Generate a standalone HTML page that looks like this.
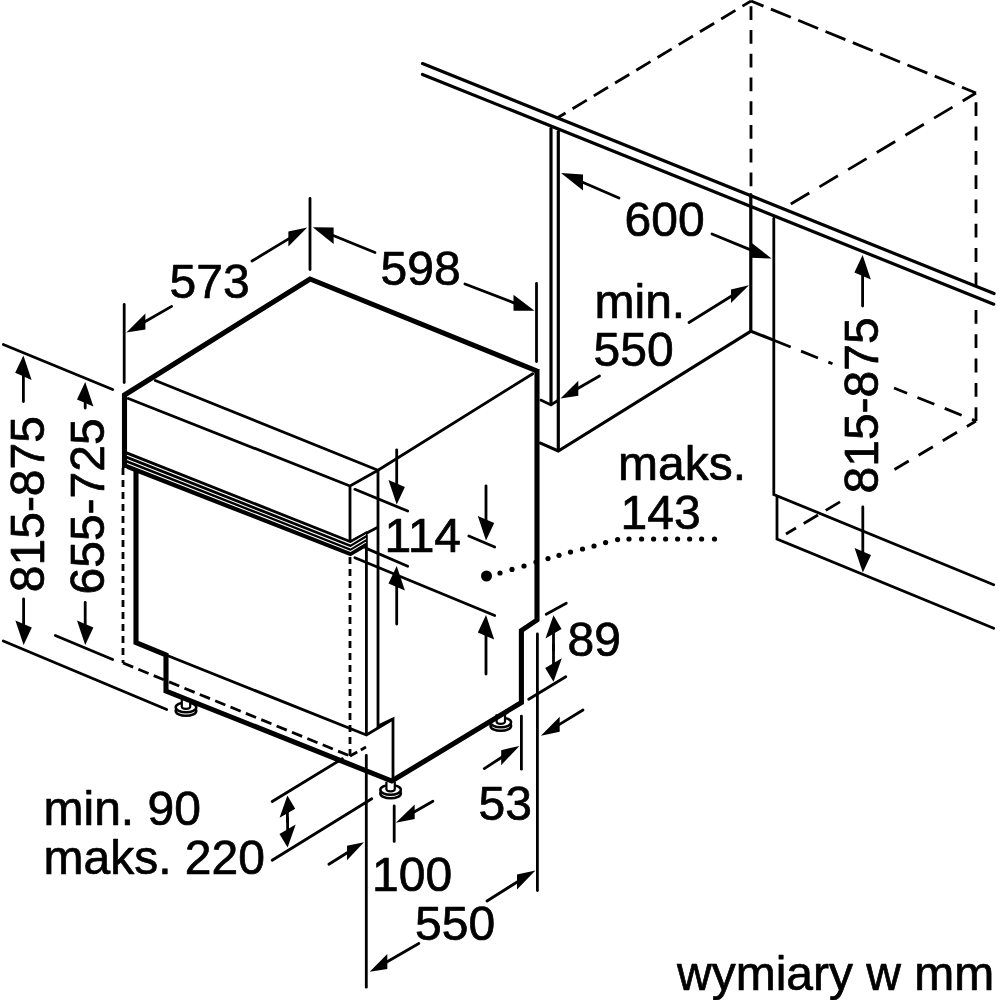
<!DOCTYPE html>
<html><head><meta charset="utf-8"><title>wymiary w mm</title>
<style>html,body{margin:0;padding:0;background:#fff}svg{display:block;will-change:transform}
svg path,svg ellipse{fill:none;stroke:#000}
svg .f{fill:#000;stroke:none}
svg text{font-family:"Liberation Sans",sans-serif;fill:#000;stroke:#000;stroke-width:.7px;stroke-linejoin:round}
</style></head><body>
<svg width="1000" height="1000" viewBox="0 0 1000 1000">
<rect width="1000" height="1000" fill="#fff"/>
<g stroke-width="2.5"><ellipse cx="186" cy="710.9" rx="10.3" ry="4.9" style="fill:#fff"/><ellipse cx="186" cy="707.3" rx="10.3" ry="4.9" style="fill:#fff"/><path d="M181.8 699.3 V706.8 A4.2 2 0 0 0 190.2 706.8 V699.3" stroke-width="2.2" style="fill:#fff"/></g>
<g stroke-width="2.5"><ellipse cx="390.6" cy="793.4" rx="10.3" ry="4.9" style="fill:#fff"/><ellipse cx="390.6" cy="789.8" rx="10.3" ry="4.9" style="fill:#fff"/><path d="M386.4 781.8 V789.3 A4.2 2 0 0 0 394.8 789.3 V781.8" stroke-width="2.2" style="fill:#fff"/></g>
<g stroke-width="2.5"><ellipse cx="500.8" cy="725.9" rx="10.3" ry="4.9" style="fill:#fff"/><ellipse cx="500.8" cy="722.3" rx="10.3" ry="4.9" style="fill:#fff"/><path d="M496.6 714.3 V721.8 A4.2 2 0 0 0 505 721.8 V714.3" stroke-width="2.2" style="fill:#fff"/></g>
<path d="M124.5 468 L124.5 395 L310 279 L537 371" stroke-width="5.1"/>
<path d="M537 369 L537 620 L521.4 630.5 L521.4 702.5 L391.8 781 L166 691 L166 655 L136 642.5 L136 468" stroke-width="5.1"/>
<path d="M128.3 398.51 L350 486 L378 470.2 L532.81 373.74" stroke-width="2.8" stroke-linecap="round"/>
<path d="M155.3 380.52 L376.7 469.68" stroke-width="2.8" stroke-linecap="round"/>
<path d="M350 487.4 L350 540.6" stroke-width="2.8" stroke-linecap="round"/>
<path d="M351.23 541.34 L376.77 527.66" stroke-width="2.8" stroke-linecap="round"/>
<path d="M378 471.4 L378 726 L393 719 L393 779.6" stroke-width="2.8" stroke-linecap="round"/>
<path d="M366.4 535.4 L366.4 733.6" stroke-width="2.8" stroke-linecap="round"/>
<path d="M167.3 655.52 L366.4 735 L391.8 719.72" stroke-width="2.8" stroke-linecap="round"/>
<polygon class="f" points="126.5,451.2 350.5,540.2 366.8,531 366.8,546.8 350.5,556.2 126.5,468.8"/>
<path d="M127 455.2 L350.5 543.8 L366 534.6" style="stroke:#fff" stroke-width="1.1"/>
<path d="M127 459.6 L350.5 547.8 L366 538.5" style="stroke:#fff" stroke-width="1.1"/>
<path d="M127 463.5 L350.5 551.4 L366 542.1" style="stroke:#fff" stroke-width="1.1"/>
<path d="M123 468 L123 663" stroke-width="2.8" stroke-dasharray="7 5"/>
<path d="M123 663 L350 756" stroke-width="2.8" stroke-dasharray="11 5.6"/>
<path d="M350 756 L366 747" stroke-width="2.8" stroke-dasharray="8.3 4.1"/>
<path d="M350 557 L350 756" stroke-width="2.8" stroke-dasharray="7 5"/>
<path d="M124.2 304.4 L124.2 382.6" stroke-width="2.8" stroke-linecap="round"/>
<path d="M310 198.4 L310 269.6" stroke-width="2.8" stroke-linecap="round"/>
<path d="M536.5 283.4 L536.5 361.6" stroke-width="2.8" stroke-linecap="round"/>
<path d="M252 261 L289.4 238.37" stroke-width="2.8" stroke-linecap="round"/>
<polygon class="f" points="307.2,227.6 288.4,231.4 288.4,246.6"/>
<path d="M171.6 306.4 L144.4 322.046" stroke-width="2.8" stroke-linecap="round"/>
<polygon class="f" points="126.4,332.4 145.4,313.5 145.4,329.5"/>
<path d="M375 252.5 L332.6 235.254" stroke-width="2.8" stroke-linecap="round"/>
<polygon class="f" points="312.8,227.2 333.6,227.5 333.6,243.9"/>
<path d="M465 284 L514.5 303.088" stroke-width="2.8" stroke-linecap="round"/>
<polygon class="f" points="534.5,310.8 513.5,294.7 513.5,310.7"/>
<text x="169.5" y="298" font-size="48" text-anchor="start">573</text>
<text x="380.5" y="284.5" font-size="48" text-anchor="start">598</text>
<path d="M3.3 344.53 L112.7 389.47" stroke-width="2.8" stroke-linecap="round"/>
<path d="M3.29 641.04 L166.71 709.46" stroke-width="2.8" stroke-linecap="round"/>
<path d="M55.29 635.54 L112.71 659.46" stroke-width="2.8" stroke-linecap="round"/>
<path d="M23.4 401.5 L23.4 375.4" stroke-width="2.8" stroke-linecap="round"/>
<polygon class="f" points="23.4,355.4 15.2,372.8 31.6,380.0"/>
<path d="M23.6 599 L23.6 625" stroke-width="2.8" stroke-linecap="round"/>
<polygon class="f" points="23.6,645 15.4,620.4 31.8,627.6"/>
<path d="M85.2 408 L85.2 402" stroke-width="2.8" stroke-linecap="round"/>
<polygon class="f" points="85.2,382 77,399.4 93.4,406.6"/>
<path d="M85.2 602.5 L85.2 625" stroke-width="2.8" stroke-linecap="round"/>
<polygon class="f" points="85.2,645 77,620.4 93.4,627.6"/>
<text x="44" y="592.2" font-size="48" text-anchor="start" transform="rotate(-90 44 592.2)">815-875</text>
<text x="104" y="594.5" font-size="48" text-anchor="start" transform="rotate(-90 104 594.5)">655-725</text>
<path d="M354.89 489.33 L407.71 511.07" stroke-width="2.8" stroke-linecap="round"/>
<path d="M365.69 548.15 L407.71 566.25" stroke-width="2.8" stroke-linecap="round"/>
<path d="M354.89 557.73 L494.71 615.47" stroke-width="2.8" stroke-linecap="round"/>
<path d="M468.79 536.04 L494.71 546.96" stroke-width="2.8" stroke-linecap="round"/>
<path d="M396.7 449.8 L396.7 484.5" stroke-width="2.8" stroke-linecap="round"/>
<polygon class="f" points="396.7,504.5 388.5,479.9 404.9,487.1"/>
<path d="M396.7 624 L396.7 586" stroke-width="2.8" stroke-linecap="round"/>
<polygon class="f" points="396.7,566 388.5,583.4 404.9,590.6"/>
<path d="M486 485.8 L486 520.5" stroke-width="2.8" stroke-linecap="round"/>
<polygon class="f" points="486,540.5 477.8,515.9 494.2,523.1"/>
<path d="M486 674 L486 635" stroke-width="2.8" stroke-linecap="round"/>
<polygon class="f" points="486,615 477.8,632.4 494.2,639.6"/>
<text x="384.5" y="551.5" font-size="48" text-anchor="start">114</text>
<circle class="f" cx="486.5" cy="576" r="5.5"/>
<circle class="f" cx="500" cy="573" r="2.6"/>
<circle class="f" cx="512" cy="569.4" r="2.6"/>
<circle class="f" cx="524" cy="566" r="2.6"/>
<circle class="f" cx="536" cy="562" r="2.6"/>
<circle class="f" cx="548" cy="558.6" r="2.6"/>
<circle class="f" cx="559" cy="555.3" r="2.6"/>
<circle class="f" cx="570.5" cy="552" r="2.6"/>
<circle class="f" cx="582.5" cy="549" r="2.6"/>
<circle class="f" cx="594" cy="546" r="2.6"/>
<circle class="f" cx="605.6" cy="542.6" r="2.6"/>
<circle class="f" cx="617.6" cy="539.6" r="2.6"/>
<circle class="f" cx="629" cy="539" r="2.6"/>
<circle class="f" cx="641.6" cy="539" r="2.6"/>
<circle class="f" cx="653.6" cy="539" r="2.6"/>
<circle class="f" cx="665.6" cy="539" r="2.6"/>
<circle class="f" cx="677.6" cy="539" r="2.6"/>
<circle class="f" cx="689.6" cy="539" r="2.6"/>
<circle class="f" cx="701.6" cy="539" r="2.6"/>
<circle class="f" cx="714.5" cy="539" r="2.6"/>
<text x="618" y="480" font-size="48" text-anchor="start">maks.</text>
<text x="620.5" y="528.5" font-size="48" text-anchor="start">143</text>
<path d="M546.22 614.32 L566.28 603.18" stroke-width="2.8" stroke-linecap="round"/>
<path d="M528.7 699.27 L565.8 676.73" stroke-width="2.8" stroke-linecap="round"/>
<path d="M553.5 650 L553.5 632.8" stroke-width="2.8" stroke-linecap="round"/>
<polygon class="f" points="553.5,615.2 545.5,638.6 561.5,629.0"/>
<path d="M553.5 645 L553.5 664.1" stroke-width="2.8" stroke-linecap="round"/>
<polygon class="f" points="553.5,681.8 545.2,667.9 561.8,658.3"/>
<text x="567.5" y="655.5" font-size="48" text-anchor="start">89</text>
<path d="M521.4 716.1 L521.4 769.2" stroke-width="2.8" stroke-linecap="round"/>
<path d="M537.4 633.9 L537.4 890.6" stroke-width="2.8" stroke-linecap="round"/>
<path d="M484.3 768.6 L502.2 757.024" stroke-width="2.8" stroke-linecap="round"/>
<polygon class="f" points="519.4,745.9 501.2,750.2 501.2,765.2"/>
<path d="M583 710 L558.7 724.892" stroke-width="2.8" stroke-linecap="round"/>
<polygon class="f" points="540.9,735.8 559.7,716.8 559.7,731.8"/>
<text x="478.5" y="819.5" font-size="48" text-anchor="start">53</text>
<path d="M366.3 755.4 L366.3 987.2" stroke-width="2.8" stroke-linecap="round"/>
<path d="M394.2 805.9 L394.2 841.4" stroke-width="2.8" stroke-linecap="round"/>
<path d="M432.9 801.2 L413.7 812.327" stroke-width="2.8" stroke-linecap="round"/>
<polygon class="f" points="395.8,822.7 414.7,804.5 414.7,819.0"/>
<path d="M328.9 864.3 L348 852.274" stroke-width="2.8" stroke-linecap="round"/>
<polygon class="f" points="364,842.2 347,845.7 347,860.2"/>
<text x="372" y="890.5" font-size="48" text-anchor="start">100</text>
<text x="415" y="940" font-size="48" text-anchor="start">550</text>
<path d="M418.8 943.5 L386.3 962.166" stroke-width="2.8" stroke-linecap="round"/>
<polygon class="f" points="369.7,971.7 387.3,954.1 387.3,969.1"/>
<path d="M487 901 L518 881.465" stroke-width="2.8" stroke-linecap="round"/>
<polygon class="f" points="535.4,870.5 517,874.6 517,889.6"/>
<path d="M272.2 801.47 L342.3 758.73" stroke-width="2.8" stroke-linecap="round"/>
<path d="M272.19 860.26 L371.81 798.74" stroke-width="2.8" stroke-linecap="round"/>
<path d="M287.4 822 L287.4 812.3" stroke-width="2.8" stroke-linecap="round"/>
<polygon class="f" points="287.4,795.5 279.6,817.8 295.2,808.8"/>
<path d="M287.6 818 L287.6 830.2" stroke-width="2.8" stroke-linecap="round"/>
<polygon class="f" points="287.6,847.5 279.5,834.0 295.7,824.4"/>
<text x="43.5" y="825" font-size="48" text-anchor="start">min. 90</text>
<text x="43.5" y="874" font-size="48" text-anchor="start">maks. 220</text>
<polygon points="421,63 996,294.3 996,305 421,73.8" fill="#fff"/>
<path d="M422.48 63.6 L994.02 293.6" stroke-width="3.2" stroke-linecap="round"/>
<path d="M422.48 74.4 L993.72 304.2" stroke-width="3.2" stroke-linecap="round"/>
<path d="M551 128.6 L551 403.4" stroke-width="3.2" stroke-linecap="round"/>
<path d="M558.3 131.6 L558.3 449.4" stroke-width="3.2" stroke-linecap="round"/>
<path d="M540.76 400.1 L551 405 L557.14 400.79" stroke-width="2.8" stroke-linecap="round"/>
<path d="M540.46 443.14 L558.3 451 L749.44 332.05" stroke-width="3.2" stroke-linecap="round"/>
<path d="M750.8 194.6 L750.8 331.2 L772.31 339.62" stroke-width="3.2" stroke-linecap="round"/>
<path d="M773.8 218.4 L773.8 494.5 L993.7 584.77" stroke-width="2.8" stroke-linecap="round"/>
<path d="M777 497.4 L777 539 L993.71 628.27" stroke-width="2.8" stroke-linecap="round"/>
<path d="M751 1 L558 117.5" stroke-width="2.8" stroke-dasharray="16.6 8.2" stroke-dashoffset="6.6"/>
<path d="M751 1 L976 93" stroke-width="2.8" stroke-dasharray="21.5 8" stroke-dashoffset="8"/>
<path d="M976 93 L785 207.5" stroke-width="2.8" stroke-dasharray="21.5 11.9" stroke-dashoffset="6"/>
<path d="M976 421 L976 300" stroke-width="2.8" stroke-dasharray="13.8 10.5"/>
<path d="M976 286.2 L976 93" stroke-width="2.8" stroke-dasharray="13.8 10.5"/>
<path d="M751 1 L751 193" stroke-width="2.8" stroke-dasharray="13.75 10" stroke-dashoffset="18.5"/>
<path d="M976 421 L885 475.2" stroke-width="2.8" stroke-dasharray="16.6 11.5" stroke-dashoffset="6"/>
<path d="M840 501.9 L786 534" stroke-width="2.8" stroke-dasharray="16.6 9"/>
<path d="M773.8 340.2 L832.5 363.8" stroke-width="2.8" stroke-dasharray="18.2 11.2"/>
<path d="M976 421 L894 388" stroke-width="2.8" stroke-dasharray="18.2 11.2" stroke-dashoffset="13.9"/>
<path d="M619 198 L582 182.052" stroke-width="2.8" stroke-linecap="round"/>
<polygon class="f" points="561,173 583,174.5 583,190.5"/>
<path d="M712 234 L751.8 250.388" stroke-width="2.8" stroke-linecap="round"/>
<polygon class="f" points="771.5,258.5 750.8,242.2 750.8,257.7"/>
<text x="624.5" y="235.5" font-size="48" text-anchor="start">600</text>
<path d="M689 322.5 L732 295.768" stroke-width="2.8" stroke-linecap="round"/>
<polygon class="f" points="749,285.2 731,289.6 731,303.1"/>
<path d="M599.5 376 L577.3 388.808" stroke-width="2.8" stroke-linecap="round"/>
<polygon class="f" points="560.5,398.5 578.3,380.7 578.3,395.7"/>
<text x="594.5" y="318" font-size="48" text-anchor="start">min.</text>
<text x="593.5" y="365.5" font-size="48" text-anchor="start">550</text>
<path d="M862.6 306 L862.6 275" stroke-width="2.8" stroke-linecap="round"/>
<polygon class="f" points="862.6,255 854.4,272.4 870.8,279.6"/>
<path d="M862.8 507 L862.8 552.5" stroke-width="2.8" stroke-linecap="round"/>
<polygon class="f" points="862.8,572.5 854.6,547.9 871,555.1"/>
<text x="877.5" y="493.5" font-size="48" text-anchor="start" transform="rotate(-90 877.5 493.5)">815-875</text>
<text x="677" y="989.5" font-size="48" text-anchor="start">wymiary w mm</text>
</svg></body></html>
